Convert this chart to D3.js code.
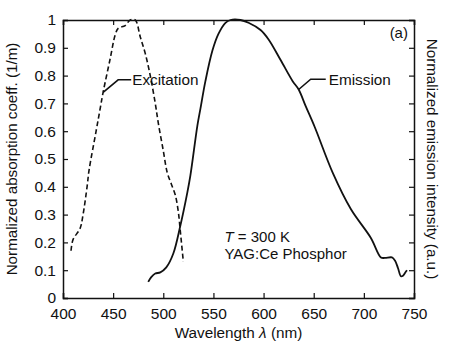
<!DOCTYPE html>
<html>
<head>
<meta charset="utf-8">
<script src="https://cdn.jsdelivr.net/npm/d3@7"></script>
<style>
  body { margin: 0; background: #fff; }
  text { font-family: "Liberation Sans", Arial, sans-serif; fill: #111; }
</style>
</head>
<body>
<div id="chart"></div>
<script>
// values
const excitationWl = [408, 410, 417, 420, 424, 426, 433, 437, 440, 447, 452, 455, 462, 467, 472, 477, 482, 487, 492, 495, 500, 504, 508, 512, 515, 517, 520];
const excitationVal = [0.17, 0.21, 0.25, 0.30, 0.40, 0.46, 0.60, 0.68, 0.74, 0.86, 0.946, 0.97, 0.98, 1.0, 1.0, 0.94, 0.88, 0.80, 0.70, 0.63, 0.53, 0.45, 0.41, 0.37, 0.31, 0.24, 0.13];
const emissionWl = [485, 488, 492, 497, 503, 510, 517, 524, 527, 534, 537, 542, 549, 555, 562, 567, 577, 585, 597, 605, 617, 629, 635, 642, 651, 669, 687, 707, 717, 721, 728, 731, 734, 737, 739, 741, 743];
const emissionVal = [0.058, 0.075, 0.088, 0.092, 0.11, 0.16, 0.26, 0.38, 0.44, 0.62, 0.68, 0.78, 0.89, 0.95, 0.99, 1.0, 1.0, 0.99, 0.964, 0.93, 0.856, 0.78, 0.75, 0.69, 0.615, 0.45, 0.32, 0.216, 0.146, 0.144, 0.146, 0.135, 0.108, 0.078, 0.08, 0.09, 0.10];
const xTicks = [400, 450, 500, 550, 600, 650, 700, 750];
const yTicks = [0, 0.1, 0.2, 0.3, 0.4, 0.5, 0.6, 0.7, 0.8, 0.9, 1];

const width = 474, height = 350;
const margin = {left: 63, right: 60, top: 20, bottom: 52};

const svg = d3.select("#chart").append("svg")
    .attr("width", width)
    .attr("height", height);

const x = d3.scaleLinear().domain([400, 750]).range([margin.left, width - margin.right]);
const y = d3.scaleLinear().domain([0, 1]).range([height - margin.bottom, margin.top]);

const fmtY = d => d === 0 || d === 1 ? d3.format("d")(d) : d3.format(".1f")(d);

// axes with inward ticks
const axBottom = svg.append("g").attr("transform", `translate(0,${y(0)})`)
    .call(d3.axisBottom(x).tickValues(xTicks).tickSize(-5).tickPadding(10).tickFormat(d3.format("d")));
const axTop = svg.append("g").attr("transform", `translate(0,${y(1)})`)
    .call(d3.axisTop(x).tickValues(xTicks).tickSize(-5).tickFormat(""));
const axLeft = svg.append("g").attr("transform", `translate(${x(400)},0)`)
    .call(d3.axisLeft(y).tickValues(yTicks).tickSize(-5).tickPadding(7).tickFormat(fmtY));
const axRight = svg.append("g").attr("transform", `translate(${x(750)},0)`)
    .call(d3.axisRight(y).tickValues(yTicks).tickSize(-5).tickFormat(""));

[axBottom, axTop, axLeft, axRight].forEach(g => {
    g.select(".domain").attr("stroke", "#111").attr("stroke-width", 1.5);
    g.selectAll(".tick line").attr("stroke", "#111").attr("stroke-width", 1.2);
    g.selectAll(".tick text").attr("font-size", 15.5).attr("fill", "#111")
        .style("font-family", "'Liberation Sans', Arial, sans-serif");
});

const line = d3.line().x(d => x(d[0])).y(d => y(d[1])).curve(d3.curveCatmullRom);

svg.append("path")
    .datum(d3.zip(excitationWl, excitationVal))
    .attr("d", line)
    .attr("fill", "none")
    .attr("stroke", "#111")
    .attr("stroke-width", 1.6)
    .attr("stroke-dasharray", "5,3");

svg.append("path")
    .datum(d3.zip(emissionWl, emissionVal))
    .attr("d", line)
    .attr("fill", "none")
    .attr("stroke", "#111")
    .attr("stroke-width", 1.8);

// leader lines to labels
svg.append("path")
    .attr("d", `M${x(440)},${y(0.74)} L${x(455)},${y(0.785)} L${x(468)},${y(0.785)}`)
    .attr("fill", "none").attr("stroke", "#111").attr("stroke-width", 1.6);
svg.append("text").attr("x", x(469)).attr("y", y(0.785) + 5.5)
    .attr("font-size", 15.3).text("Excitation");

svg.append("path")
    .attr("d", `M${x(635)},${y(0.75)} L${x(647)},${y(0.787)} L${x(662)},${y(0.787)}`)
    .attr("fill", "none").attr("stroke", "#111").attr("stroke-width", 1.6);
svg.append("text").attr("x", x(665)).attr("y", y(0.787) + 5.5)
    .attr("font-size", 15.3).text("Emission");

svg.append("text").attr("x", x(744)).attr("y", y(0.935))
    .attr("text-anchor", "end").attr("font-size", 15).text("(a)");

const note = svg.append("text").attr("x", x(561)).attr("y", y(0.2)).attr("font-size", 15);
note.append("tspan").attr("font-style", "italic").text("T");
note.append("tspan").text(" = 300 K");
svg.append("text").attr("x", x(561)).attr("y", y(0.2) + 17).attr("font-size", 15).text("YAG:Ce Phosphor");

// axis titles
svg.append("text").attr("x", x(575)).attr("y", 338)
    .attr("text-anchor", "middle").attr("font-size", 15.3)
    .html("Wavelength <tspan font-style='italic'>λ</tspan> (nm)");

svg.append("text")
    .attr("transform", `translate(17,${y(0.5)}) rotate(-90)`)
    .attr("text-anchor", "middle").attr("font-size", 15.2)
    .text("Normalized absorption coeff. (1/m)");

svg.append("text")
    .attr("transform", `translate(427,${y(0.5)}) rotate(90)`)
    .attr("text-anchor", "middle").attr("font-size", 15.2)
    .text("Normalized emission intensity (a.u.)");
</script>
</body>
</html>
